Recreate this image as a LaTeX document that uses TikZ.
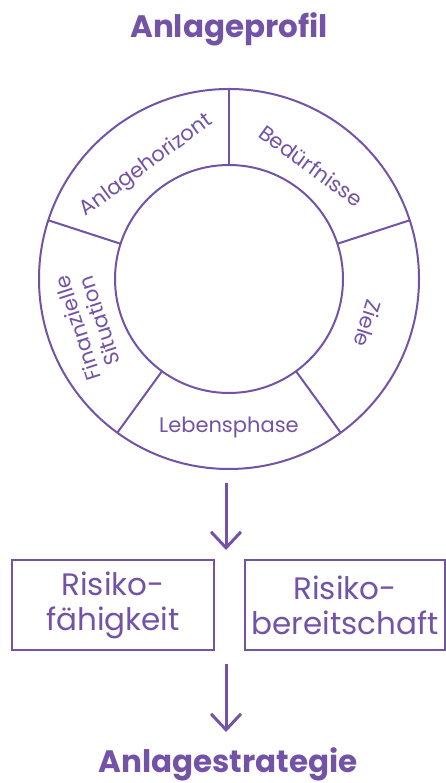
\documentclass[tikz,border=0pt]{standalone}
\usepackage{fontspec}
\setmainfont{Poppins}
\usetikzlibrary{arrows.meta}
\definecolor{lila}{RGB}{115,83,165}
\tikzset{
  ring/.style = {circle, draw=lila, line width=2pt, inner sep=0pt, outer sep=0pt},
  ring_lbl/.style = {text=lila, font=\fontsize{21}{23}\selectfont, align=center, inner sep=0pt},
  risk_box/.style = {draw=lila, line width=2pt, text=lila, font=\fontsize{31}{35}\selectfont,
    align=center, minimum height=90pt, inner sep=0pt},
  titel/.style = {text=lila, font=\fontsize{31}{35}\selectfont\bfseries, anchor=base},
  pfeil/.style = {draw=lila, line width=3pt, -{Straight Barb[length=16pt,width=30pt]}}
}

\begin{document}
\begin{tikzpicture}[x=1pt,y=1pt]
\useasboundingbox (0,0) rectangle (446,783);
\node [titel] (profil) at (229,745) {Anlageprofil};
% Ring
\coordinate (mitte) at (229,504);
\node [ring, minimum size=380pt] (aussen) at (mitte) {};
\node [ring, minimum size=228pt] (innen) at (mitte) {};
\foreach \w in {90,18,-54,-126,162}
	\draw [draw=lila, line width=2pt] (innen.\w) -- (aussen.\w);
\node [ring_lbl, rotate=36] (horizont) at ([shift={(126:140)}]mitte) {Anlagehorizont};
\node [ring_lbl, rotate=-36] (bedarf) at ([shift={(54:140)}]mitte) {Bedürfnisse};
\node [ring_lbl, rotate=-108] (ziele) at ([shift={(-18:146)}]mitte) {Ziele};
\node [ring_lbl] (phase) at ([shift={(-90:148)}]mitte) {Lebensphase};
\node [ring_lbl, rotate=108] (finanz) at ([shift={(198:148)}]mitte) {Finanzielle\\Situation};
% Risiko
\coordinate (p1) at (226,300);
\coordinate (p2) at (226,233);
\draw [pfeil] (p1) -- (p2);
\node [risk_box, minimum width=202pt] (faehig) at (113,178) {Risiko-\\fähigkeit};
\node [risk_box, minimum width=200pt] (bereit) at (345,178) {Risiko-\\bereitschaft};
\coordinate (p3) at (226,119);
\coordinate (p4) at (226,51);
\draw [pfeil] (p3) -- (p4);
\node [titel] (strategie) at (228,10) {Anlagestrategie};
\end{tikzpicture}
\end{document}
